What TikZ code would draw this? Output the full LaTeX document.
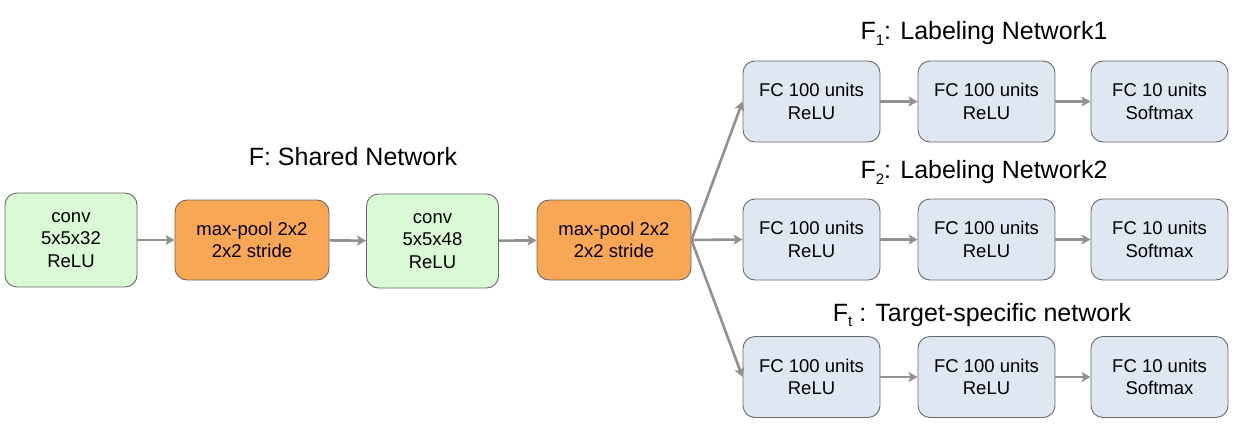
\documentclass[tikz,border=0pt]{standalone}
\usepackage{fontspec}
\setmainfont{Liberation Sans}
\usetikzlibrary{arrows.meta}
\definecolor{convfill}{RGB}{217,250,213}
\definecolor{poolfill}{RGB}{249,166,85}
\definecolor{fcfill}{RGB}{222,231,242}
\definecolor{edgegray}{RGB}{105,105,105}
\definecolor{arrowgray}{RGB}{145,145,145}
\newcommand{\sub}[1]{\raisebox{-0.45ex}{\fontsize{15}{15}\selectfont #1}}
\tikzset{
  blk/.style={draw=edgegray, line width=0.9pt, rounded corners=12pt, align=center,
    inner sep=0pt, font=\fontsize{18.5}{22.5}\selectfont},
  convbox/.style={blk, fill=convfill, minimum width=132pt, minimum height=94pt},
  poolbox/.style={blk, fill=poolfill, minimum width=154pt, minimum height=80pt},
  fcbox/.style={blk, fill=fcfill, minimum width=137pt, minimum height=81pt},
  title/.style={font=\fontsize{25}{28}\selectfont, inner sep=0pt},
  conn/.style={draw=arrowgray, line width=2.6pt, -{Stealth[length=9pt,width=10pt,inset=2pt]}}
}
\begin{document}
\begin{tikzpicture}[x=1pt,y=-1pt]
\useasboundingbox (0,0) rectangle (1242,436);
\node[convbox] (c1) at (71,240) {conv\\5x5x32\\ReLU};
\node[poolbox] (p1) at (252,240) {max-pool 2x2\\2x2 stride};
\node[convbox] (c2) at (432.5,241) {conv\\5x5x48\\ReLU};
\node[poolbox] (p2) at (614,240) {max-pool 2x2\\2x2 stride};
\node[title] (tf) at (353,157) {F: Shared Network};

\foreach \r/\y in {1/101.5, 2/239.5, 3/377}{
  \node[fcbox] (a\r) at (811.5,\y) {FC 100 units\\ReLU};
  \node[fcbox] (b\r) at (986.5,\y) {FC 100 units\\ReLU};
  \node[fcbox] (d\r) at (1159.5,\y) {FC 10 units\\Softmax};
  \draw[conn] (a\r) -- (b\r);
  \draw[conn] (b\r) -- (d\r);
  \draw[conn] (p2.east) -- (a\r.west);
}
\node[title] (t1) at (984,33) {F\sub{1}: Labeling Network1};
\node[title] (t2) at (984,172) {F\sub{2}: Labeling Network2};
\node[title] (t3) at (982,315) {F\sub{t} : Target-specific network};

\draw[conn] (c1) -- (p1);
\draw[conn] (p1) -- (c2);
\draw[conn] (c2) -- (p2);
\end{tikzpicture}
\end{document}
